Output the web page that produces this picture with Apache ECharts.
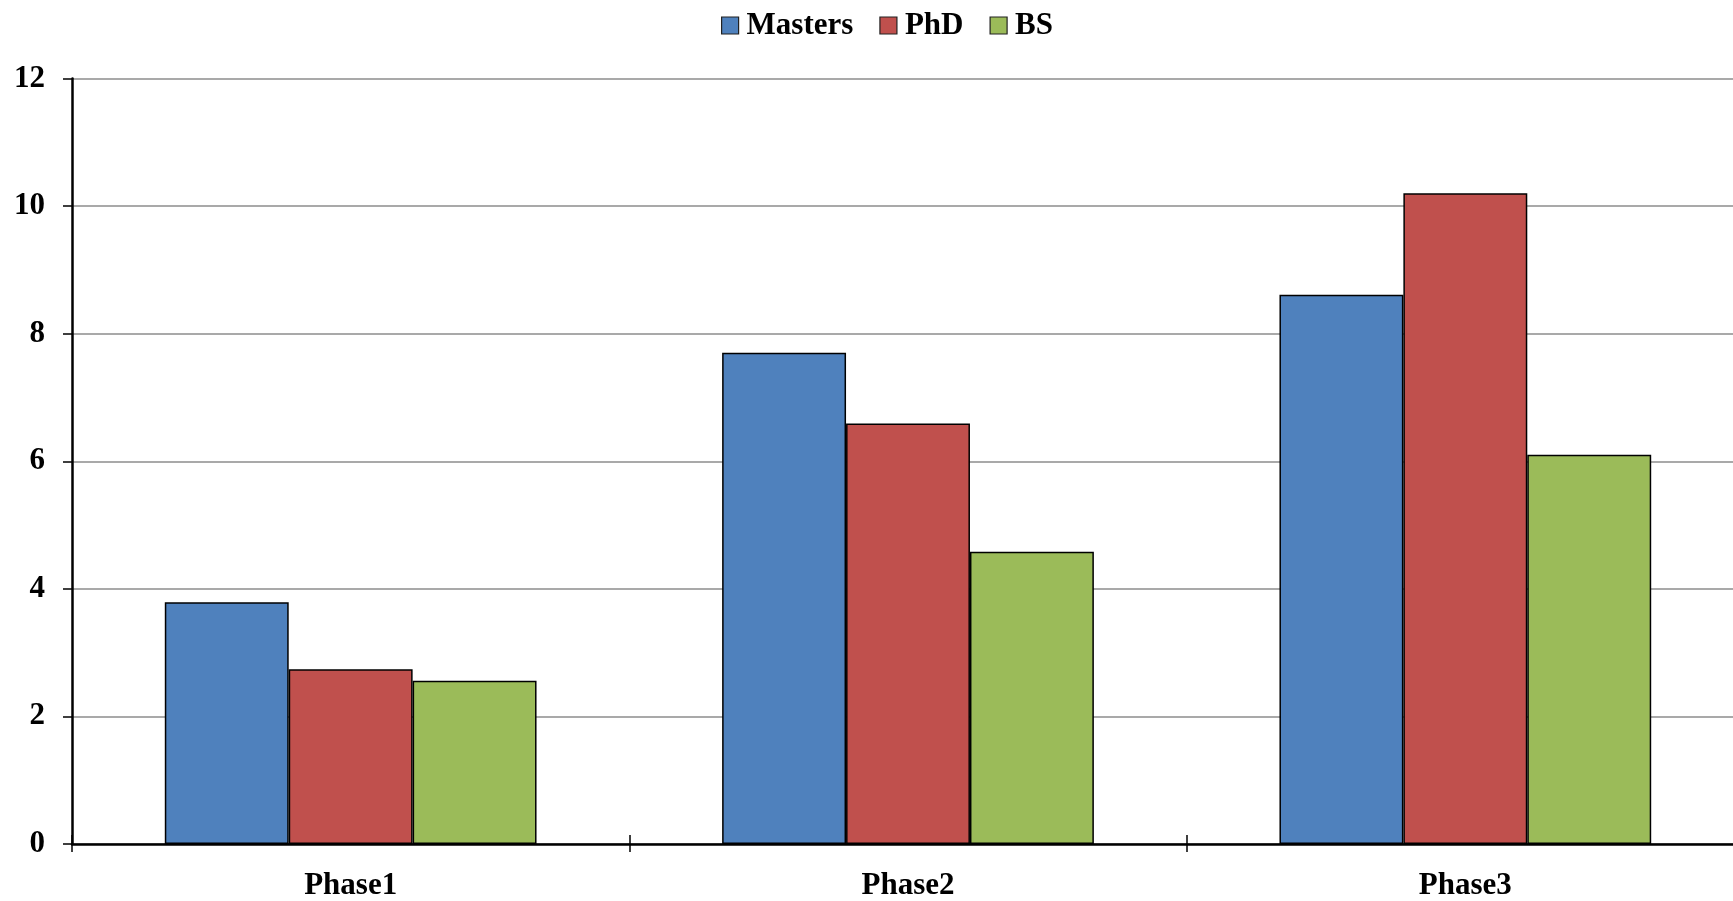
<!DOCTYPE html>
<html>
<head>
<meta charset="utf-8">
<script src="https://cdn.jsdelivr.net/npm/echarts@6/dist/echarts.min.js"></script>
<style>
html,body{margin:0;padding:0;background:#fff;overflow:hidden;}
#wrap{width:1733px;height:901px;overflow:hidden;position:relative;}
#chart{width:1744px;height:901px;position:absolute;left:0;top:0;}
</style>
</head>
<body>
<div id="wrap"><div id="chart"></div></div>
<script>
const categories = ['Phase1', 'Phase2', 'Phase3'];
const seriesNames = ['Masters', 'PhD', 'BS'];
const masters = [3.79, 7.70, 8.61];
const phd = [2.74, 6.59, 10.20];
const bs = [2.56, 4.58, 6.10];
const colors = ['#4F81BD', '#C0504D', '#9BBB59'];
const yMin = 0, yMax = 12, yStep = 2;

const font = '"Liberation Serif", "Times New Roman", serif';
const chart = echarts.init(document.getElementById('chart'));
const values = [masters, phd, bs];
chart.setOption({
  animation: false,
  color: colors,
  textStyle: { fontFamily: font },
  legend: {
    data: seriesNames,
    left: 716,
    top: 5,
    itemWidth: 17,
    itemHeight: 17,
    itemGap: 26,
    icon: 'rect',
    itemStyle: { borderColor: '#222', borderWidth: 1.2 },
    textStyle: { fontFamily: font, fontWeight: 'bold', fontSize: 31, color: '#000', padding: [0, 0, 0, 3] }
  },
  grid: { left: 72, right: 0, top: 78.5, bottom: 51, containLabel: false },
  xAxis: [{
    type: 'category',
    data: categories,
    axisLine: { lineStyle: { color: '#000', width: 2.5 } },
    axisTick: { show: true, length: 8, lineStyle: { color: '#000', width: 1.5 } },
    axisLabel: { fontFamily: font, fontWeight: 'bold', fontSize: 31, color: '#000', margin: 26 }
  }, {
    type: 'category',
    data: categories,
    position: 'bottom',
    axisLine: { show: false },
    axisTick: { show: true, inside: true, length: 9, lineStyle: { color: '#000', width: 1.5 } },
    axisLabel: { show: false }
  }],
  yAxis: {
    type: 'value',
    min: yMin, max: yMax, interval: yStep,
    axisLine: { show: true, lineStyle: { color: '#000', width: 2.5 } },
    axisTick: { show: true, length: 9, lineStyle: { color: '#000', width: 1.5 } },
    splitLine: { show: true, lineStyle: { color: '#8c8c8c', width: 1.5 } },
    axisLabel: { fontFamily: font, fontWeight: 'bold', fontSize: 31, color: '#000', margin: 27 }
  },
  series: seriesNames.map((n, i) => ({
    name: n,
    type: 'bar',
    data: values[i],
    barGap: '0%',
    barCategoryGap: '33.3%',
    itemStyle: { color: colors[i], borderColor: '#000', borderWidth: 1.5 }
  }))
});
</script>
</body>
</html>
